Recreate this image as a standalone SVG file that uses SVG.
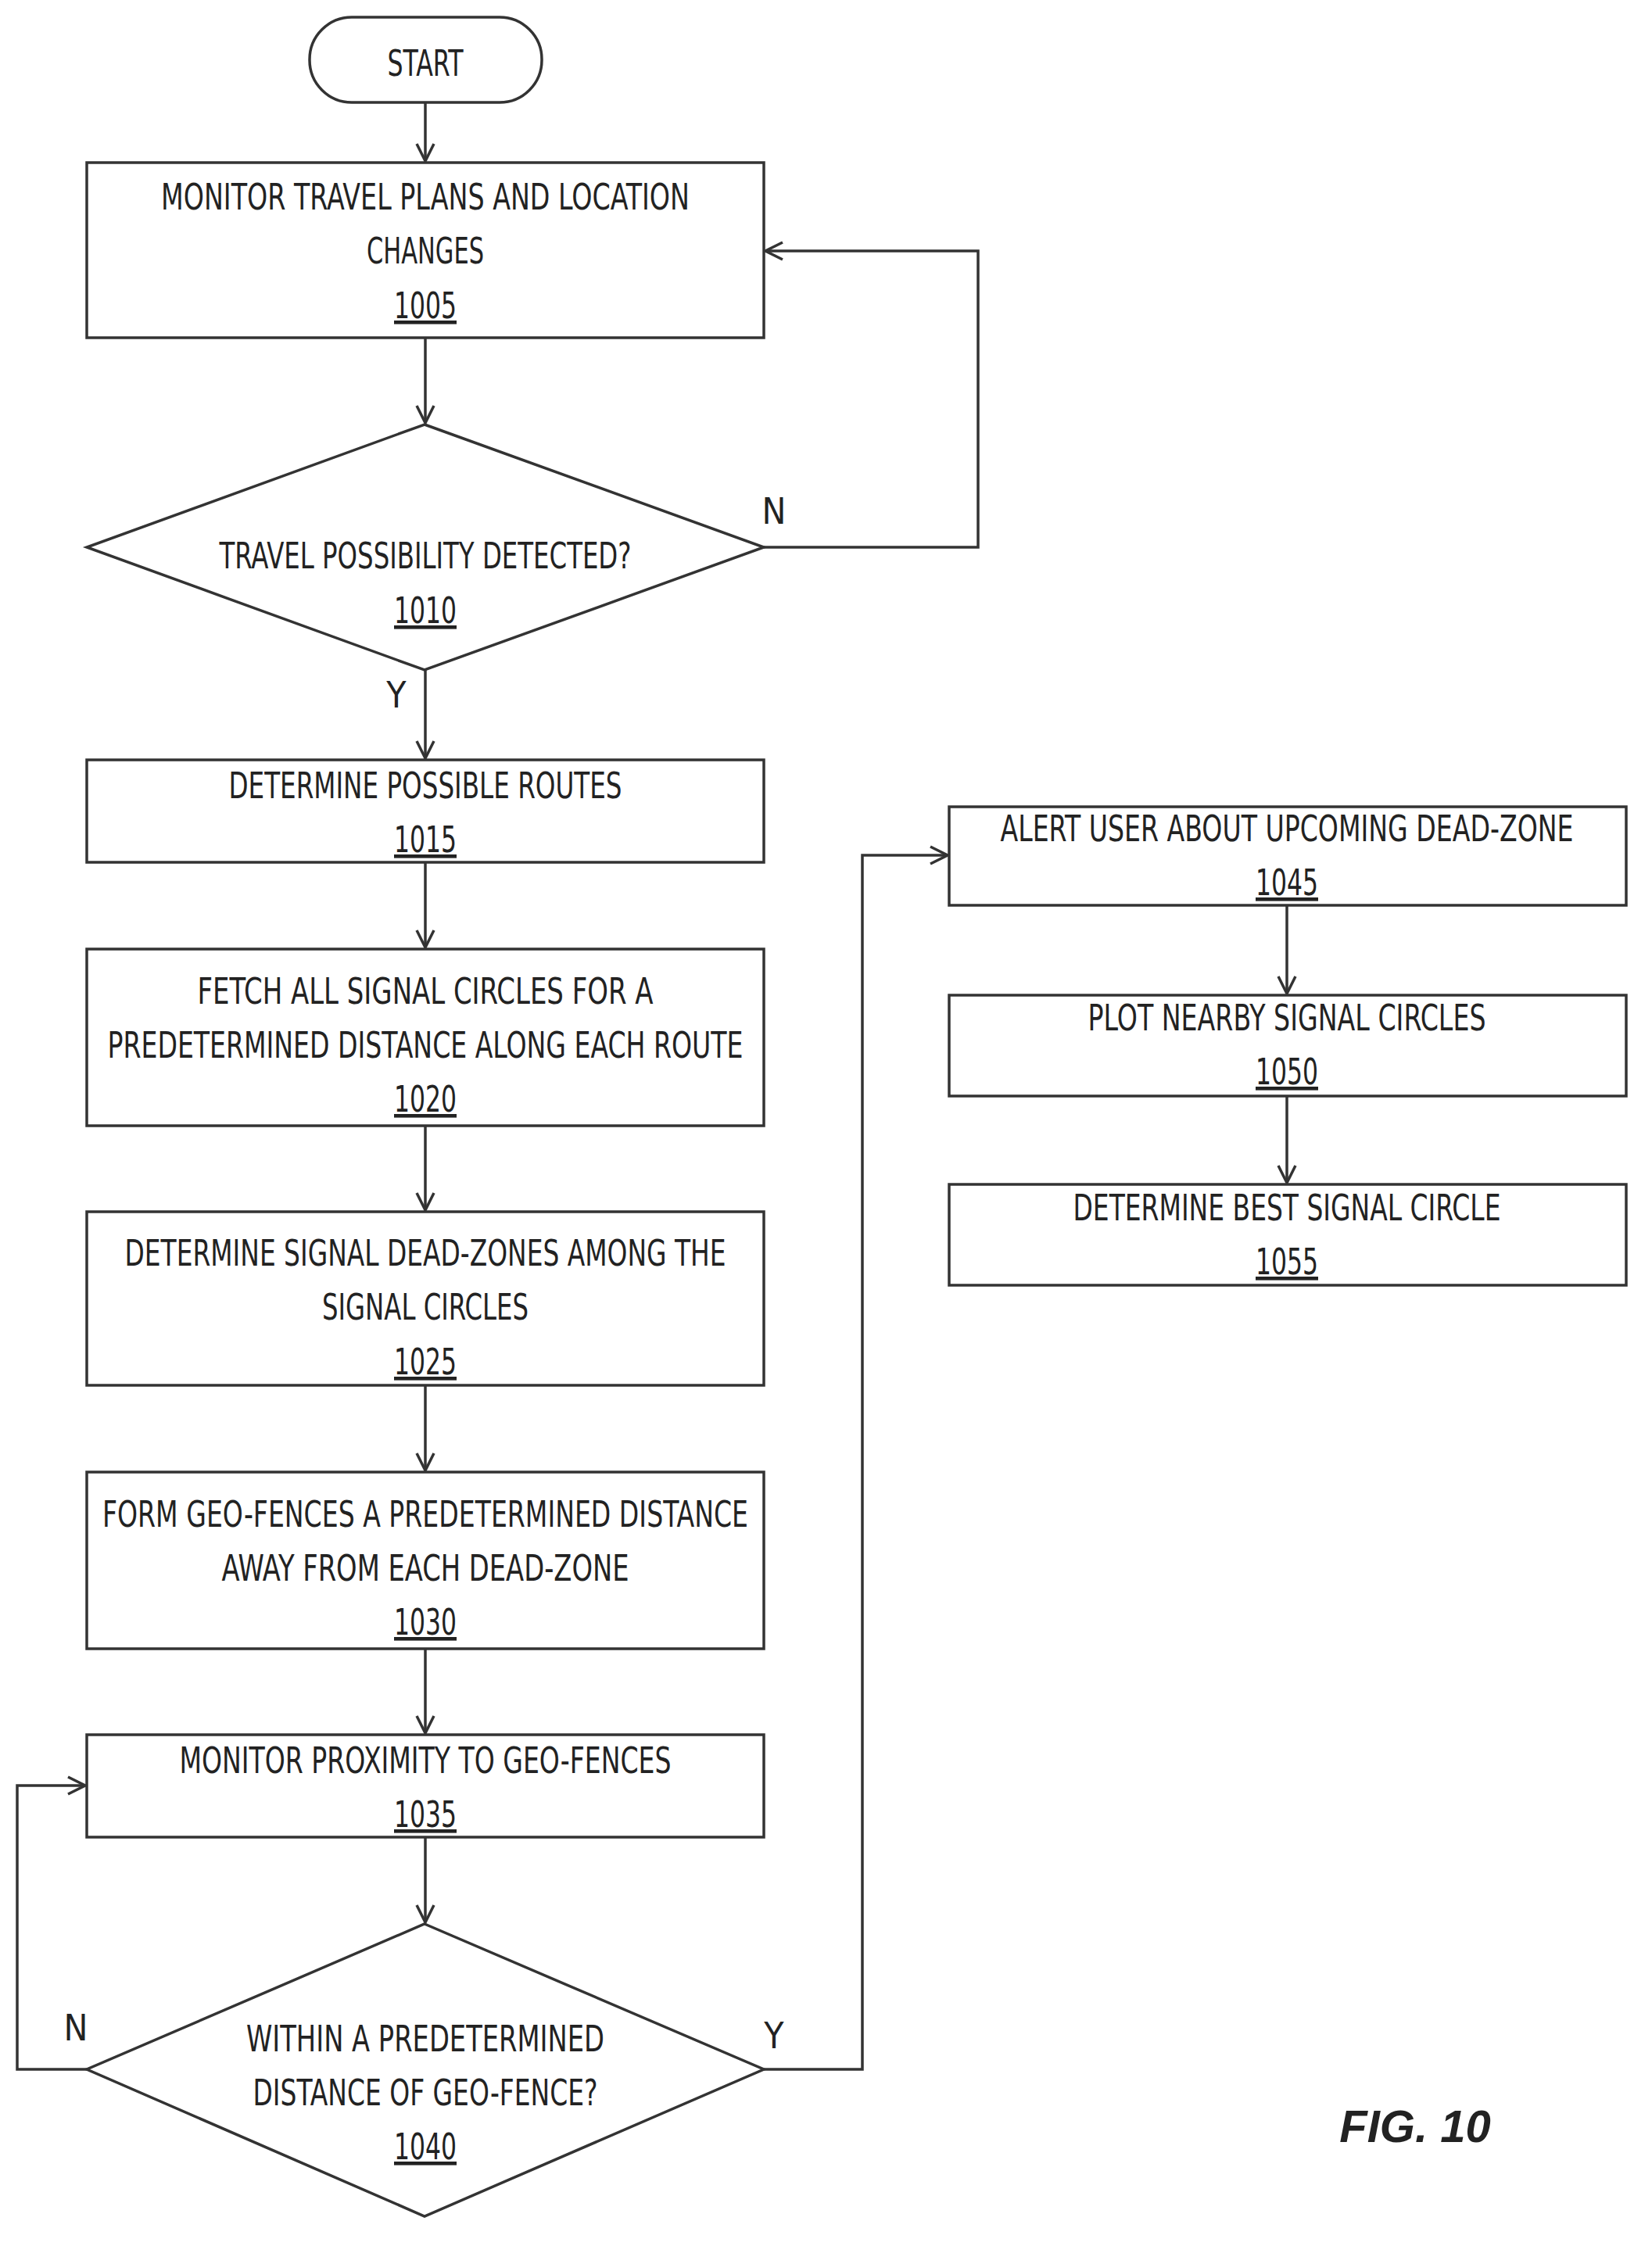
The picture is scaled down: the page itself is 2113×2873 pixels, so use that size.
<svg xmlns="http://www.w3.org/2000/svg" width="2113" height="2873" viewBox="0 0 2113 2873">
<style>
.s{fill:#fff;stroke:#333;stroke-width:3.5}
.c{fill:none;stroke:#333;stroke-width:3.5}
text{font-family:"DejaVu Sans Condensed","Liberation Sans Narrow","Liberation Sans",sans-serif;font-size:46px;fill:#222;text-anchor:middle;lengthAdjust:spacingAndGlyphs}
.u{text-decoration:underline}
.l{text-anchor:start}
</style>
<defs><marker id="a" markerWidth="12" markerHeight="12" refX="11" refY="6" orient="auto" markerUnits="userSpaceOnUse" viewBox="0 0 12 12"><path d="M0,0 L12,6 L0,12 L4,6 Z" fill="#333"/></marker>
<marker id="b" markerWidth="26" markerHeight="26" refX="24" refY="13" orient="auto" markerUnits="userSpaceOnUse" viewBox="0 0 26 26"><path d="M2,2 L24,13 L2,24" fill="none" stroke="#333" stroke-width="3.5"/></marker></defs>
<g id="start"><rect class="s" x="396" y="22" width="297" height="109" rx="54"/><text x="544" y="97" textLength="97" lengthAdjust="spacingAndGlyphs">START</text></g>
<g id="n1005"><rect class="s" x="111" y="208" width="866" height="224"/><text x="544" y="268" textLength="676" lengthAdjust="spacingAndGlyphs">MONITOR TRAVEL PLANS AND LOCATION</text><text x="544" y="337" textLength="150" lengthAdjust="spacingAndGlyphs">CHANGES</text><text class="u" x="544" y="407" textLength="80" lengthAdjust="spacingAndGlyphs">1005</text></g>
<g id="n1010"><polygon class="s" points="543,543 977,700 543,857 111,700"/><text x="544" y="727" textLength="527" lengthAdjust="spacingAndGlyphs">TRAVEL POSSIBILITY DETECTED?</text><text class="u" x="544" y="797" textLength="80" lengthAdjust="spacingAndGlyphs">1010</text></g>
<g id="n1015"><rect class="s" x="111" y="972" width="866" height="131"/><text x="544" y="1021" textLength="503" lengthAdjust="spacingAndGlyphs">DETERMINE POSSIBLE ROUTES</text><text class="u" x="544" y="1090" textLength="80" lengthAdjust="spacingAndGlyphs">1015</text></g>
<g id="n1020"><rect class="s" x="111" y="1214" width="866" height="226"/><text x="544" y="1284" textLength="583" lengthAdjust="spacingAndGlyphs">FETCH ALL SIGNAL CIRCLES FOR A</text><text x="544" y="1353" textLength="813" lengthAdjust="spacingAndGlyphs">PREDETERMINED DISTANCE ALONG EACH ROUTE</text><text class="u" x="544" y="1422" textLength="80" lengthAdjust="spacingAndGlyphs">1020</text></g>
<g id="n1025"><rect class="s" x="111" y="1550" width="866" height="222"/><text x="544" y="1619" textLength="769" lengthAdjust="spacingAndGlyphs">DETERMINE SIGNAL DEAD-ZONES AMONG THE</text><text x="544" y="1688" textLength="264" lengthAdjust="spacingAndGlyphs">SIGNAL CIRCLES</text><text class="u" x="544" y="1758" textLength="80" lengthAdjust="spacingAndGlyphs">1025</text></g>
<g id="n1030"><rect class="s" x="111" y="1883" width="866" height="226"/><text x="544" y="1953" textLength="826" lengthAdjust="spacingAndGlyphs">FORM GEO-FENCES A PREDETERMINED DISTANCE</text><text x="544" y="2022" textLength="521" lengthAdjust="spacingAndGlyphs">AWAY FROM EACH DEAD-ZONE</text><text class="u" x="544" y="2091" textLength="80" lengthAdjust="spacingAndGlyphs">1030</text></g>
<g id="n1035"><rect class="s" x="111" y="2219" width="866" height="131"/><text x="544" y="2268" textLength="629" lengthAdjust="spacingAndGlyphs">MONITOR PROXIMITY TO GEO-FENCES</text><text class="u" x="544" y="2337" textLength="80" lengthAdjust="spacingAndGlyphs">1035</text></g>
<g id="n1040"><polygon class="s" points="543,2461 977,2647 543,2835 111,2647"/><text x="544" y="2624" textLength="458" lengthAdjust="spacingAndGlyphs">WITHIN A PREDETERMINED</text><text x="544" y="2693" textLength="441" lengthAdjust="spacingAndGlyphs">DISTANCE OF GEO-FENCE?</text><text class="u" x="544" y="2762" textLength="80" lengthAdjust="spacingAndGlyphs">1040</text></g>
<g id="n1045"><rect class="s" x="1214" y="1032" width="866" height="126"/><text x="1646" y="1076" textLength="733" lengthAdjust="spacingAndGlyphs">ALERT USER ABOUT UPCOMING DEAD-ZONE</text><text class="u" x="1646" y="1145" textLength="80" lengthAdjust="spacingAndGlyphs">1045</text></g>
<g id="n1050"><rect class="s" x="1214" y="1273" width="866" height="129"/><text x="1646" y="1318" textLength="509" lengthAdjust="spacingAndGlyphs">PLOT NEARBY SIGNAL CIRCLES</text><text class="u" x="1646" y="1387" textLength="80" lengthAdjust="spacingAndGlyphs">1050</text></g>
<g id="n1055"><rect class="s" x="1214" y="1515" width="866" height="129"/><text x="1646" y="1561" textLength="547" lengthAdjust="spacingAndGlyphs">DETERMINE BEST SIGNAL CIRCLE</text><text class="u" x="1646" y="1630" textLength="80" lengthAdjust="spacingAndGlyphs">1055</text></g>
<g id="connectors">
<path class="c" marker-end="url(#b)" d="M544,131 V206"/>
<path class="c" marker-end="url(#b)" d="M544,432 V541"/>
<path class="c" marker-end="url(#b)" d="M977,700 H1251 V321 H979"/>
<path class="c" marker-end="url(#b)" d="M544,857 V970"/>
<path class="c" marker-end="url(#b)" d="M544,1103 V1212"/>
<path class="c" marker-end="url(#b)" d="M544,1440 V1548"/>
<path class="c" marker-end="url(#b)" d="M544,1772 V1881"/>
<path class="c" marker-end="url(#b)" d="M544,2109 V2217"/>
<path class="c" marker-end="url(#b)" d="M544,2350 V2459"/>
<path class="c" marker-end="url(#b)" d="M111,2647 H22 V2284 H109"/>
<path class="c" marker-end="url(#b)" d="M977,2647 H1103 V1094 H1212"/>
<path class="c" marker-end="url(#b)" d="M1646,1158 V1271"/>
<path class="c" marker-end="url(#b)" d="M1646,1402 V1513"/>
<text x="990" y="670">N</text><text x="507" y="905">Y</text><text x="97" y="2610">N</text><text x="990" y="2620">Y</text>
</g>
<text x="1810" y="2740" style="font-family:'Liberation Sans',sans-serif;font-size:58px;font-style:italic;font-weight:bold">FIG. 10</text>
</svg>
